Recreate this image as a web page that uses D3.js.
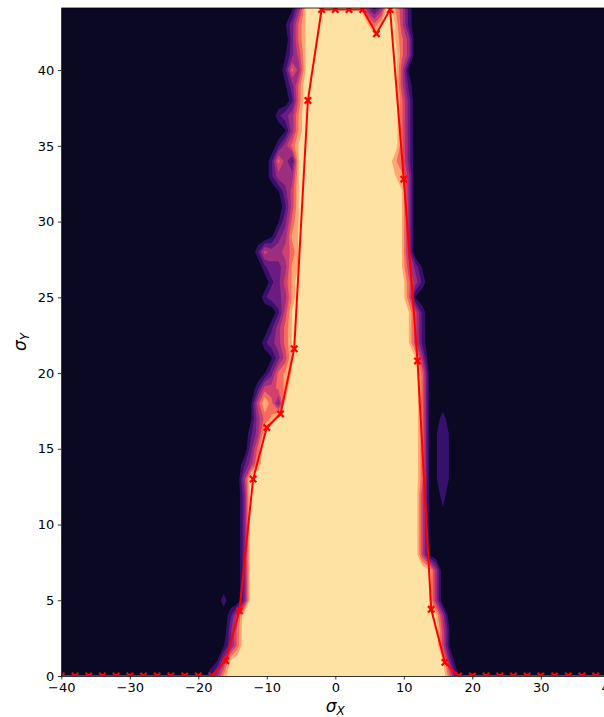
<!DOCTYPE html>
<html>
<head>
<meta charset="utf-8">
<script src="https://cdn.jsdelivr.net/npm/d3@7"></script>
<style>
  body { margin: 0; background: #fff; }
  svg { display: block; font-family: "DejaVu Sans", sans-serif; }
</style>
</head>
<body>
<div id="chart"></div>
<script>
// ── DATA ───────────────────────────────────────────────────────────────
// success map, rows from sigma_Y = 44 (top) down to 0, columns sigma_X = -20 .. 20 (step 1)
// each digit d stands for a value d / 9 ; groups of 5 columns for readability
const gridRows = [
  "00000 00000 00001 48999 99998 42497 52000 00000 0", // 44
  "00000 00000 00013 68999 99999 86898 52000 00000 0",
  "00000 00000 00003 68999 99999 99998 64000 00000 0",
  "00000 00000 00013 58999 99999 99999 64000 00000 0",
  "00000 00000 00026 48999 99999 99999 51000 00000 0", // 40
  "00000 00000 00013 69999 99999 99999 52000 00000 0",
  "00000 00000 00002 69999 99999 99999 63000 00000 0",
  "00000 00000 00234 79999 99999 99999 63000 00000 0",
  "00000 00000 00014 79999 99999 99999 63000 00000 0",
  "00000 00000 00246 89999 99999 99999 63000 00000 0", // 35
  "00000 00000 02642 89999 99999 99997 63000 00000 0",
  "00000 00000 02444 89999 99999 99998 74000 00000 0",
  "00000 00000 00135 89999 99999 99999 84000 00000 0",
  "00000 00000 00025 89999 99999 99999 84000 00000 0",
  "00000 00000 00136 89999 99999 99999 84000 00000 0", // 30
  "00000 00000 01347 89999 99999 99999 84000 00000 0",
  "00000 00002 54456 89999 99999 99999 84000 00000 0",
  "00000 00000 23347 89999 99999 99999 85310 00000 0",
  "00000 00000 02357 99999 99999 99999 96420 00000 0",
  "00000 00000 23347 99999 99999 99999 96100 00000 0", // 25
  "00000 00000 00258 99999 99999 99999 98520 00000 0",
  "00000 00000 02468 99999 99999 99999 98520 00000 0",
  "00000 00000 23468 99999 99999 99999 98520 00000 0",
  "00000 00000 01358 99999 99999 99999 99840 00000 0",
  "00000 00000 13678 99999 99999 99999 99961 00000 0", // 20
  "00000 00002 55679 99999 99999 99999 99961 00000 0",
  "00000 00015 86389 99999 99999 99999 99961 00000 0",
  "00000 00014 67999 99999 99999 99999 99961 02000 0",
  "00000 00024 89999 99999 99999 99999 99961 12100 0",
  "00000 00036 99999 99999 99999 99999 99961 12100 0", // 15
  "00000 00247 99999 99999 99999 99999 99961 12100 0",
  "00000 00499 99999 99999 99999 99999 99961 12100 0",
  "00000 00399 99999 99999 99999 99999 99951 02000 0",
  "00000 00399 99999 99999 99999 99999 99951 01000 0",
  "00000 00399 99999 99999 99999 99999 99951 00000 0", // 10
  "00000 00399 99999 99999 99999 99999 99951 00000 0",
  "00000 00399 99999 99999 99999 99999 99951 00000 0",
  "00000 00399 99999 99999 99999 99999 99998 40000 0",
  "00000 00399 99999 99999 99999 99999 99998 40000 0",
  "00002 00399 99999 99999 99999 99999 99998 40000 0", // 5
  "00000 25999 99999 99999 99999 99999 99999 84000 0",
  "00000 36999 99999 99999 99999 99999 99999 95100 0",
  "00001 36999 99999 99999 99999 99999 99999 95100 0",
  "00014 89999 99999 99999 99999 99999 99999 98300 0",
  "00247 99999 99999 99999 99999 99999 99999 99620 0"  // 0
];
const gridX0 = -20.3;   // sigma_X of the first column

// boundary curve (red line with x markers)
const boundaryX = [-40, -38, -36, -34, -32, -30, -28, -26, -24, -22, -20, -18,
                   -16, -14, -12, -10, -8, -6, -4, -2, 0, 2, 4, 6, 8, 10, 12, 14, 16,
                   18, 20, 22, 24, 26, 28, 30, 32, 34, 36, 38, 40];
const boundaryY = [0, 0, 0, 0, 0, 0, 0, 0, 0, 0, 0, 0,
                   1.0, 4.3, 13.0, 16.4, 17.3, 21.6, 38.0, 44.0, 44.0, 44.0, 44.0, 42.4, 44.0, 32.8, 20.8, 4.4, 0.9,
                   0, 0, 0, 0, 0, 0, 0, 0, 0, 0, 0, 0];

const xTicks = [-40, -30, -20, -10, 0, 10, 20, 30, 40];
const yTicks = [0, 5, 10, 15, 20, 25, 30, 35, 40];
const nBands = 8;

// ── SETUP ──────────────────────────────────────────────────────────────
const width = 604, height = 717;
const x = d3.scaleLinear().domain([-40, 40]).range([61.3, 609.3]);
const y = d3.scaleLinear().domain([0, 44.1]).range([676, 8]);

const svg = d3.select("#chart").append("svg")
    .attr("width", width)
    .attr("height", height);

svg.append("defs").append("clipPath").attr("id", "plot-clip")
    .append("rect")
    .attr("x", x(-40)).attr("y", y(44.1))
    .attr("width", x(40) - x(-40)).attr("height", y(0) - y(44.1));

const bandColor = k => d3.interpolateMagma((k + 0.5) / nBands);

const plot = svg.append("g").attr("clip-path", "url(#plot-clip)");

plot.append("rect")
    .attr("x", x(-40)).attr("y", y(44.1))
    .attr("width", x(40) - x(-40)).attr("height", y(0) - y(44.1))
    .attr("fill", bandColor(0));

// ── FILLED CONTOURS ────────────────────────────────────────────────────
const rows = gridRows.map(r => r.replace(/ /g, "")).reverse();   // bottom row first
const nx = rows[0].length, ny = rows.length;
const values = [];
rows.forEach(r => { for (let i = 0; i < nx; i++) values.push(+r[i] / 9); });

const levels = d3.range(1, nBands).map(k => k / nBands);
const contours = d3.contours().size([nx, ny]).thresholds(levels)(values);

const gridProj = d3.geoTransform({
    point: function (gx, gy) {
        this.stream.point(x(gridX0 + gx - 0.5), y(gy - 0.5));
    }
});
const path = d3.geoPath(gridProj);

plot.selectAll("path.band")
    .data(contours)
    .enter().append("path")
    .attr("class", "band")
    .attr("d", path)
    .attr("fill", (d, i) => bandColor(i + 1));

// ── BOUNDARY LINE ──────────────────────────────────────────────────────
const pts = boundaryX.map((v, i) => [v, boundaryY[i]]);

plot.append("path")
    .datum(pts)
    .attr("fill", "none")
    .attr("stroke", "#ff0000")
    .attr("stroke-width", 2)
    .attr("d", d3.line().x(d => x(d[0])).y(d => y(d[1])));

plot.selectAll("path.mark")
    .data(pts)
    .enter().append("path")
    .attr("class", "mark")
    .attr("transform", d => `translate(${x(d[0])},${y(d[1])})`)
    .attr("d", "M-3.2,-3.2L3.2,3.2M-3.2,3.2L3.2,-3.2")
    .attr("stroke", "#ff0000")
    .attr("stroke-width", 2.2);

// ── AXES ───────────────────────────────────────────────────────────────
const fmt = d3.format("d");

const xAxis = svg.append("g")
    .attr("transform", `translate(0,${y(0)})`)
    .call(d3.axisBottom(x).tickValues(xTicks).tickFormat(fmt)
        .tickSize(3.5).tickSizeOuter(0).tickPadding(3.5));

const yAxis = svg.append("g")
    .attr("transform", `translate(${x(-40)},0)`)
    .call(d3.axisLeft(y).tickValues(yTicks).tickFormat(fmt)
        .tickSize(3.5).tickSizeOuter(0).tickPadding(3.5));

[xAxis, yAxis].forEach(a => {
    a.selectAll("text").style("font-size", "13px").attr("fill", "#000")
        .style("font-family", "'DejaVu Sans', sans-serif");
    a.selectAll("line").attr("stroke", "#000").attr("stroke-width", 0.8);
    a.select(".domain").attr("stroke", "#000").attr("stroke-width", 0.8);
});

// top spine
svg.append("line")
    .attr("x1", x(-40)).attr("x2", x(40))
    .attr("y1", y(44.1)).attr("y2", y(44.1))
    .attr("stroke", "#000").attr("stroke-width", 0.8);

// ── AXIS LABELS ────────────────────────────────────────────────────────
const xl = svg.append("text")
    .attr("x", (x(-40) + x(40)) / 2)
    .attr("y", 712)
    .attr("text-anchor", "middle")
    .style("font-size", "17px")
    .style("font-style", "italic");
xl.append("tspan").text("σ");
xl.append("tspan").attr("dy", 3).style("font-size", "12px").text("X");

const yl = svg.append("text")
    .attr("transform", `translate(26,${(y(0) + y(44.1)) / 2}) rotate(-90)`)
    .attr("text-anchor", "middle")
    .style("font-size", "17px")
    .style("font-style", "italic");
yl.append("tspan").text("σ");
yl.append("tspan").attr("dy", 3).style("font-size", "12px").text("Y");
</script>
</body>
</html>
